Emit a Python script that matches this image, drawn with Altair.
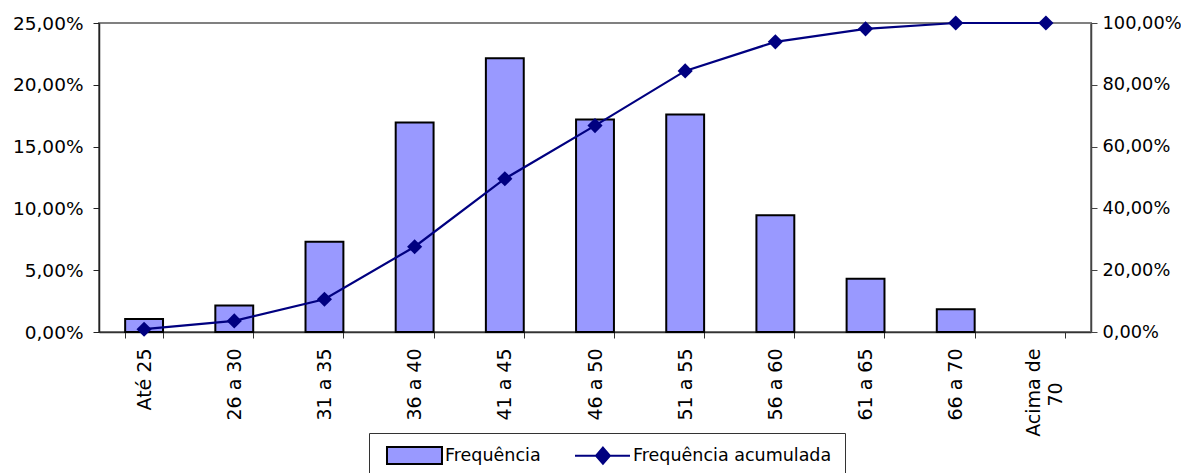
import altair as alt
import pandas as pd

categorias = ["Até 25", "26 a 30", "31 a 35", "36 a 40", "41 a 45", "46 a 50",
              "51 a 55", "56 a 60", "61 a 65", "66 a 70", "Acima de 70"]
frequencia = [1.05, 2.15, 7.3, 16.95, 22.15, 17.2, 17.6, 9.45, 4.3, 1.85, 0.0]
acumulada = [0.9, 3.6, 10.6, 27.6, 49.6, 66.8, 84.5, 93.9, 98.1, 100.0, 100.0]
series = ["Frequência", "Frequência acumulada"]

df = pd.DataFrame({"cat": categorias, "freq": frequencia, "acum": acumulada})

FONT = "DejaVu Sans"
BAR_FILL = "#9999FF"
NAVY = "#000080"

rect_path = "M-0.53,-1H5.94V1H-0.53Z"
line_path = "M-0.53,0H5.94M2.76,-0.95L3.58,0L2.76,0.95L1.94,0Z"

PAD = "\u00a0" + "\u2800" * 2
xenc = alt.X(
    "cat:N", sort=categorias,
    scale=alt.Scale(paddingInner=0.58, paddingOuter=0.29),
    axis=alt.Axis(
        title=None, labelAngle=-90, labelAlign="right", labelBaseline="middle",
        labelPadding=10, labelFontSize=19, labelColor="black", labelFont=FONT,
        tickBand="extent", tickSize=6, tickColor="#333333", domainColor="#333333",
        domainWidth=1.5, labelOverlap=False, labelLimit=300, labelLineHeight=22,
        labelOffset={"condition": {"test": "datum.value == 'Acima de 70'", "value": -12}, "value": 0},
        labelExpr="datum.label == 'Acima de 70' ? ['Acima de', '70" + PAD + "'] : datum.label",
    ),
)

pct_left = "replace(format(datum.value, '.2f'), '.', ',') + '%'"

bars = alt.Chart(df).transform_filter("datum.freq > 0").transform_calculate(
    serie="'Frequência'"
).mark_bar(stroke="black", strokeWidth=2).encode(
    x=xenc,
    y=alt.Y("freq:Q", scale=alt.Scale(domain=[0, 25], nice=False),
            axis=alt.Axis(title=None, orient="left", values=[0, 5, 10, 15, 20, 25],
                          labelExpr=pct_left, grid=False, tickSize=6, labelPadding=10,
                          labelFontSize=18.5, labelFont=FONT, labelColor="black",
                          domainColor="#222222", domainWidth=1.5, tickColor="#222222")),
    fill=alt.Fill("serie:N", scale=alt.Scale(domain=series, range=[BAR_FILL, NAVY]), title=None),
)

yright = alt.Y("acum:Q", scale=alt.Scale(domain=[0, 100], nice=False),
               axis=alt.Axis(title=None, orient="right", values=[0, 20, 40, 60, 80, 100],
                             labelExpr=pct_left, grid=False, tickSize=6, labelPadding=5,
                             labelFontSize=17.8, labelFont=FONT, labelColor="black",
                             domainColor="#444444", domainWidth=1.5, tickColor="#444444"))
yright_noaxis = alt.Y("acum:Q", scale=alt.Scale(domain=[0, 100], nice=False), axis=None)

line = alt.Chart(df).transform_calculate(serie="'Frequência acumulada'").mark_line(
    strokeWidth=2.2
).encode(
    x=xenc,
    y=yright,
    stroke=alt.Stroke("serie:N", scale=alt.Scale(domain=series, range=["black", NAVY]), title=None),
)

points = alt.Chart(df).mark_point(
    shape="diamond", filled=True, size=230, color=NAVY, opacity=1
).encode(x=xenc, y=yright_noaxis)

dummy = alt.Chart(df).transform_calculate(serie="'Frequência acumulada'").transform_filter(
    "false"
).mark_point(filled=True).encode(
    x=xenc,
    y=yright_noaxis,
    shape=alt.Shape("serie:N", scale=alt.Scale(domain=series, range=[rect_path, line_path]), title=None),
    fill=alt.Fill("serie:N", scale=alt.Scale(domain=series, range=[BAR_FILL, NAVY]), title=None),
    stroke=alt.Stroke("serie:N", scale=alt.Scale(domain=series, range=["black", NAVY]), title=None),
)

chart = alt.layer(bars, line, points, dummy).resolve_scale(
    y="independent"
).properties(
    width=992, height=309,
    padding={"left": 91, "top": 15, "right": 90, "bottom": 141},
    autosize=alt.AutoSizeParams(type="none"),
).configure(
    font=FONT, background="white"
).configure_view(
    stroke="#808080", strokeWidth=2
).configure_legend(
    orient="none", legendX=270, legendY=410, direction="horizontal",
    strokeColor="#333333", padding=13, symbolSize=289, symbolStrokeWidth=2,
    labelFontSize=17.5, labelFont=FONT, labelColor="black", labelOffset=44,
    columnPadding=29, symbolOpacity=1, labelLimit=400,
)

chart.save("out.html", embed_options={"renderer": "svg", "actions": False})
